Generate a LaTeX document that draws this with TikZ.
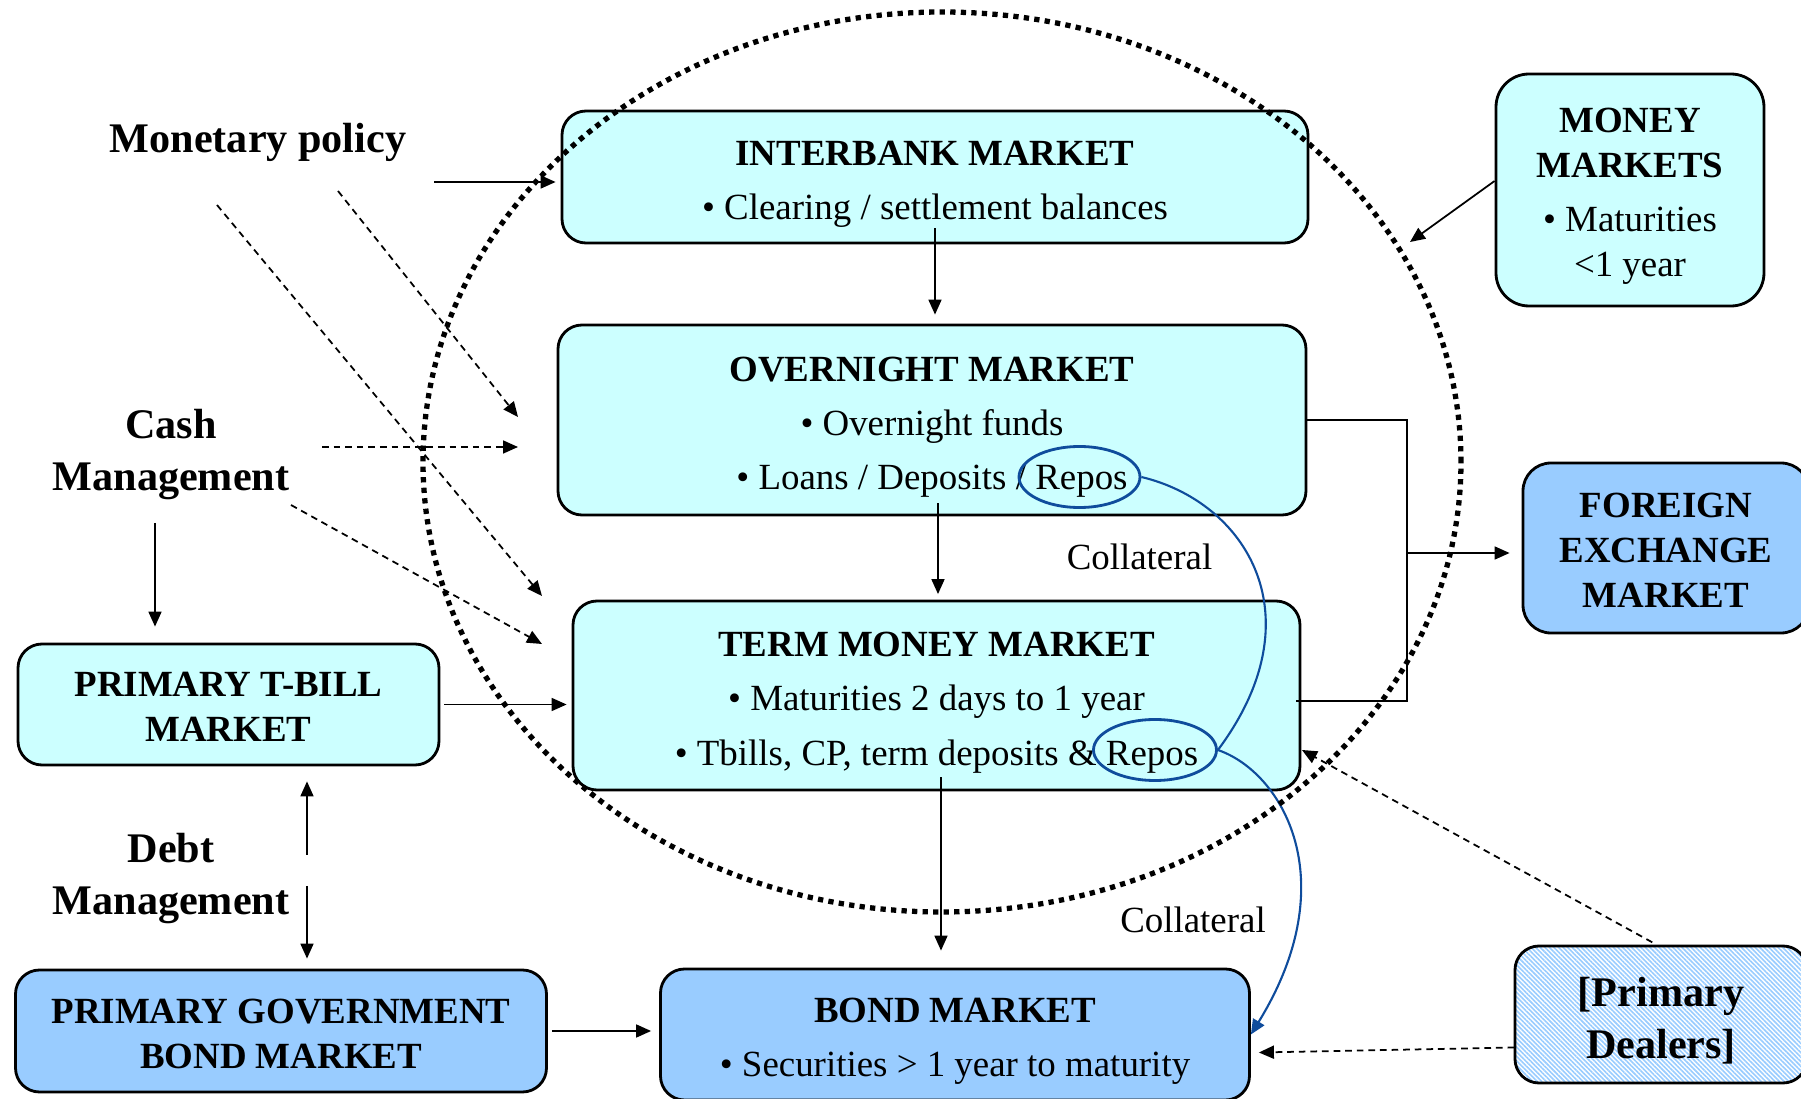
\documentclass[tikz,border=0pt]{standalone}
\usepackage{fontspec}
\setmainfont{Liberation Serif}
\usetikzlibrary{arrows.meta, patterns.meta, shapes.geometric}

\definecolor{lightcyan}{HTML}{CCFFFF}
\definecolor{skyblue}{HTML}{99CCFF}
\definecolor{repoblue}{HTML}{0F4C9C}

\begin{document}
\begin{tikzpicture}[x=0.1mm,y=-0.1mm,
  box/.style={draw, line width=0.8pt, rounded corners=2.4mm, align=center, inner sep=0pt},
  moneybox/.style={box, fill=lightcyan},
  capitalbox/.style={box, fill=skyblue},
  body/.style={font=\fontsize{10.5}{15.4}\selectfont},
  caps/.style={font=\fontsize{10.5}{12.8}\selectfont\bfseries},
  lbl/.style={font=\fontsize{12}{14.8}\selectfont\bfseries, align=center},
  arr/.style={-{Triangle[length=1.5mm,width=1.3mm]}, line width=0.5pt},
  dashedarr/.style={arr, dash pattern=on 1.9pt off 1.4pt},
  repo/.style={ellipse, draw=repoblue, line width=0.8pt, inner sep=0pt},
  collateral/.style={repoblue, line width=0.6pt}]
\useasboundingbox (0,0) rectangle (1801,1099);
% Markets inside the circle
\node[moneybox, body, minimum width=74.6mm, minimum height=13.2mm] (interbank) at (935,177)
  {\rule{0pt}{11pt}\textbf{INTERBANK MARKET}\\\textbullet{} Clearing / settlement balances};
\node[moneybox, body, minimum width=74.8mm, minimum height=19mm] (overnight) at (932,420)
  {\rule{0pt}{11pt}\textbf{OVERNIGHT MARKET}\\\textbullet{} Overnight funds\\\textbullet{} Loans / Deposits / Repos};
\node[moneybox, body, minimum width=72.7mm, minimum height=18.9mm] (term) at (936.5,695.5)
  {\rule{0pt}{11pt}\textbf{TERM MONEY MARKET}\\\textbullet{} Maturities 2 days to 1 year\\\textbullet{} Tbills, CP, term deposits \& Repos};
% Other markets
\node[capitalbox, body, minimum width=58.9mm, minimum height=13.1mm] (bond) at (955,1034.5)
  {\rule{0pt}{11pt}\textbf{BOND MARKET}\\\textbullet{} Securities > 1 year to maturity};
\node[capitalbox, caps, minimum width=53.1mm, minimum height=12.2mm] (govbond) at (281,1031)
  {\rule{0pt}{8.6pt}PRIMARY GOVERNMENT\\BOND MARKET};
\node[moneybox, caps, minimum width=42.1mm, minimum height=12.1mm] (tbill) at (228.5,704.5)
  {\rule{0pt}{8.4pt}PRIMARY T-BILL\\MARKET};
\node[moneybox, font=\fontsize{10.5}{12.8}\selectfont, rounded corners=3.3mm,
  minimum width=26.8mm, minimum height=23.2mm] (money) at (1630,190)
  {\rule{0pt}{10.3pt}\textbf{MONEY}\\\textbf{MARKETS}\\[2.6pt]\textbullet{} Maturities\\<1 year};
\node[capitalbox, caps, rounded corners=2.8mm, minimum width=28.6mm, minimum height=17mm] (fx) at (1666,548)
  {\rule{0pt}{8.4pt}FOREIGN\\EXCHANGE\\MARKET};
\node[box, lbl, pattern={Lines[angle=-45,distance=0.92pt,line width=0.46pt]}, pattern color=skyblue,
  minimum width=29.2mm, minimum height=13.7mm] (dealers) at (1661,1014.5)
  {\rule{0pt}{11.6pt}[Primary\\Dealers]};
% Labels
\node[lbl] (monetary) at (258,142) {Monetary policy};
\node[lbl] (cash) at (171,455) {Cash\\Management};
\node[lbl] (debt) at (171,879) {Debt\\Management};
\node[font=\fontsize{10.5}{12}\selectfont] (collateralA) at (1139.5,557) {Collateral};
\node[font=\fontsize{10.5}{12}\selectfont] (collateralB) at (1193,920) {Collateral};
% Repos
\node[repo, minimum width=12.1mm, minimum height=6.1mm] (repoA) at (1079.5,477) {};
\node[repo, minimum width=12.3mm, minimum height=6.1mm] (repoB) at (1155,750) {};
\draw[collateral] (repoA.east) .. controls (1246,502) and (1318,616) .. (repoB.east);
\draw[collateral, -{Triangle[length=1.5mm,width=1.3mm]}] (repoB.east) .. controls (1282,772) and (1346,880) .. (bond.east);
% Free ends
\coordinate (mpstart) at (434,182);
\coordinate (mpA) at (338,191);
\coordinate (mpAend) at (518,417);
\coordinate (mpB) at (217,205);
\coordinate (mpBend) at (542,596);
\coordinate (cashA) at (322,447);
\coordinate (cashAend) at (518,447);
\coordinate (cashB) at (291,505);
\coordinate (cashBend) at (542,644);
\coordinate (cashdown) at (155,523);
\coordinate (debtup) at (307,855);
\coordinate (debtdown) at (307,886);
\coordinate (mmtip) at (1410,242);
\coordinate (fxjoin) at (1407,553);
\coordinate (dealtip) at (1302,750);
% Monetary policy and cash management
\draw[arr, shorten >=0.5mm] (mpstart) -- (mpstart -| interbank.west);
\draw[dashedarr] (mpA) -- (mpAend);
\draw[dashedarr] (mpB) -- (mpBend);
\draw[dashedarr] (cashA) -- (cashAend);
\draw[dashedarr] (cashB) -- (cashBend);
\draw[arr, shorten >=1.6mm] (cashdown) -- (cashdown |- tbill.north);
% Debt management
\draw[arr, shorten >=1.5mm] (debtup) -- (debtup |- tbill.south);
\draw[arr, shorten >=1mm] (debtdown) -- (debtdown |- govbond.north);
\draw[arr, shorten <=0.4mm, shorten >=0.5mm] (tbill.east) -- (tbill.east -| term.west);
\draw[arr, shorten <=0.4mm, shorten >=0.8mm] (govbond.east) -- (govbond.east -| bond.west);
% Down the chain
\draw[arr, shorten >=0.9mm] ([yshift=1.6mm]interbank.south) -- (interbank.south |- overnight.north);
\draw[arr, shorten >=0.55mm] ([xshift=0.6mm,yshift=1.3mm]overnight.south) -- ([xshift=0.6mm]overnight.south |- term.north);
\draw[arr, shorten >=1.7mm] ([xshift=0.45mm,yshift=1.4mm]term.south) -- ([xshift=0.45mm]term.south |- bond.north);
% Foreign exchange
\draw[line width=0.5pt] (overnight.east) -| (fxjoin) |- ([xshift=-0.5mm,yshift=-0.55mm]term.east);
\draw[arr, shorten >=1.2mm] (fxjoin) -- (fxjoin -| fx.west);
\draw[arr] ([yshift=0.9mm]money.west) -- (mmtip);
% Primary dealers
\draw[dashedarr, shorten <=0.6mm] ([xshift=-0.35mm]dealers.north) -- (dealtip);
\draw[dashedarr] ([yshift=-3.3mm]dealers.west) -- ([xshift=0.8mm,yshift=-1.8mm]bond.east);
% Dotted circle
\draw[line width=1.5pt, dash pattern=on 1.5pt off 1.5pt] (942,462) ellipse [x radius=51.9mm, y radius=45mm];
\end{tikzpicture}
\end{document}
